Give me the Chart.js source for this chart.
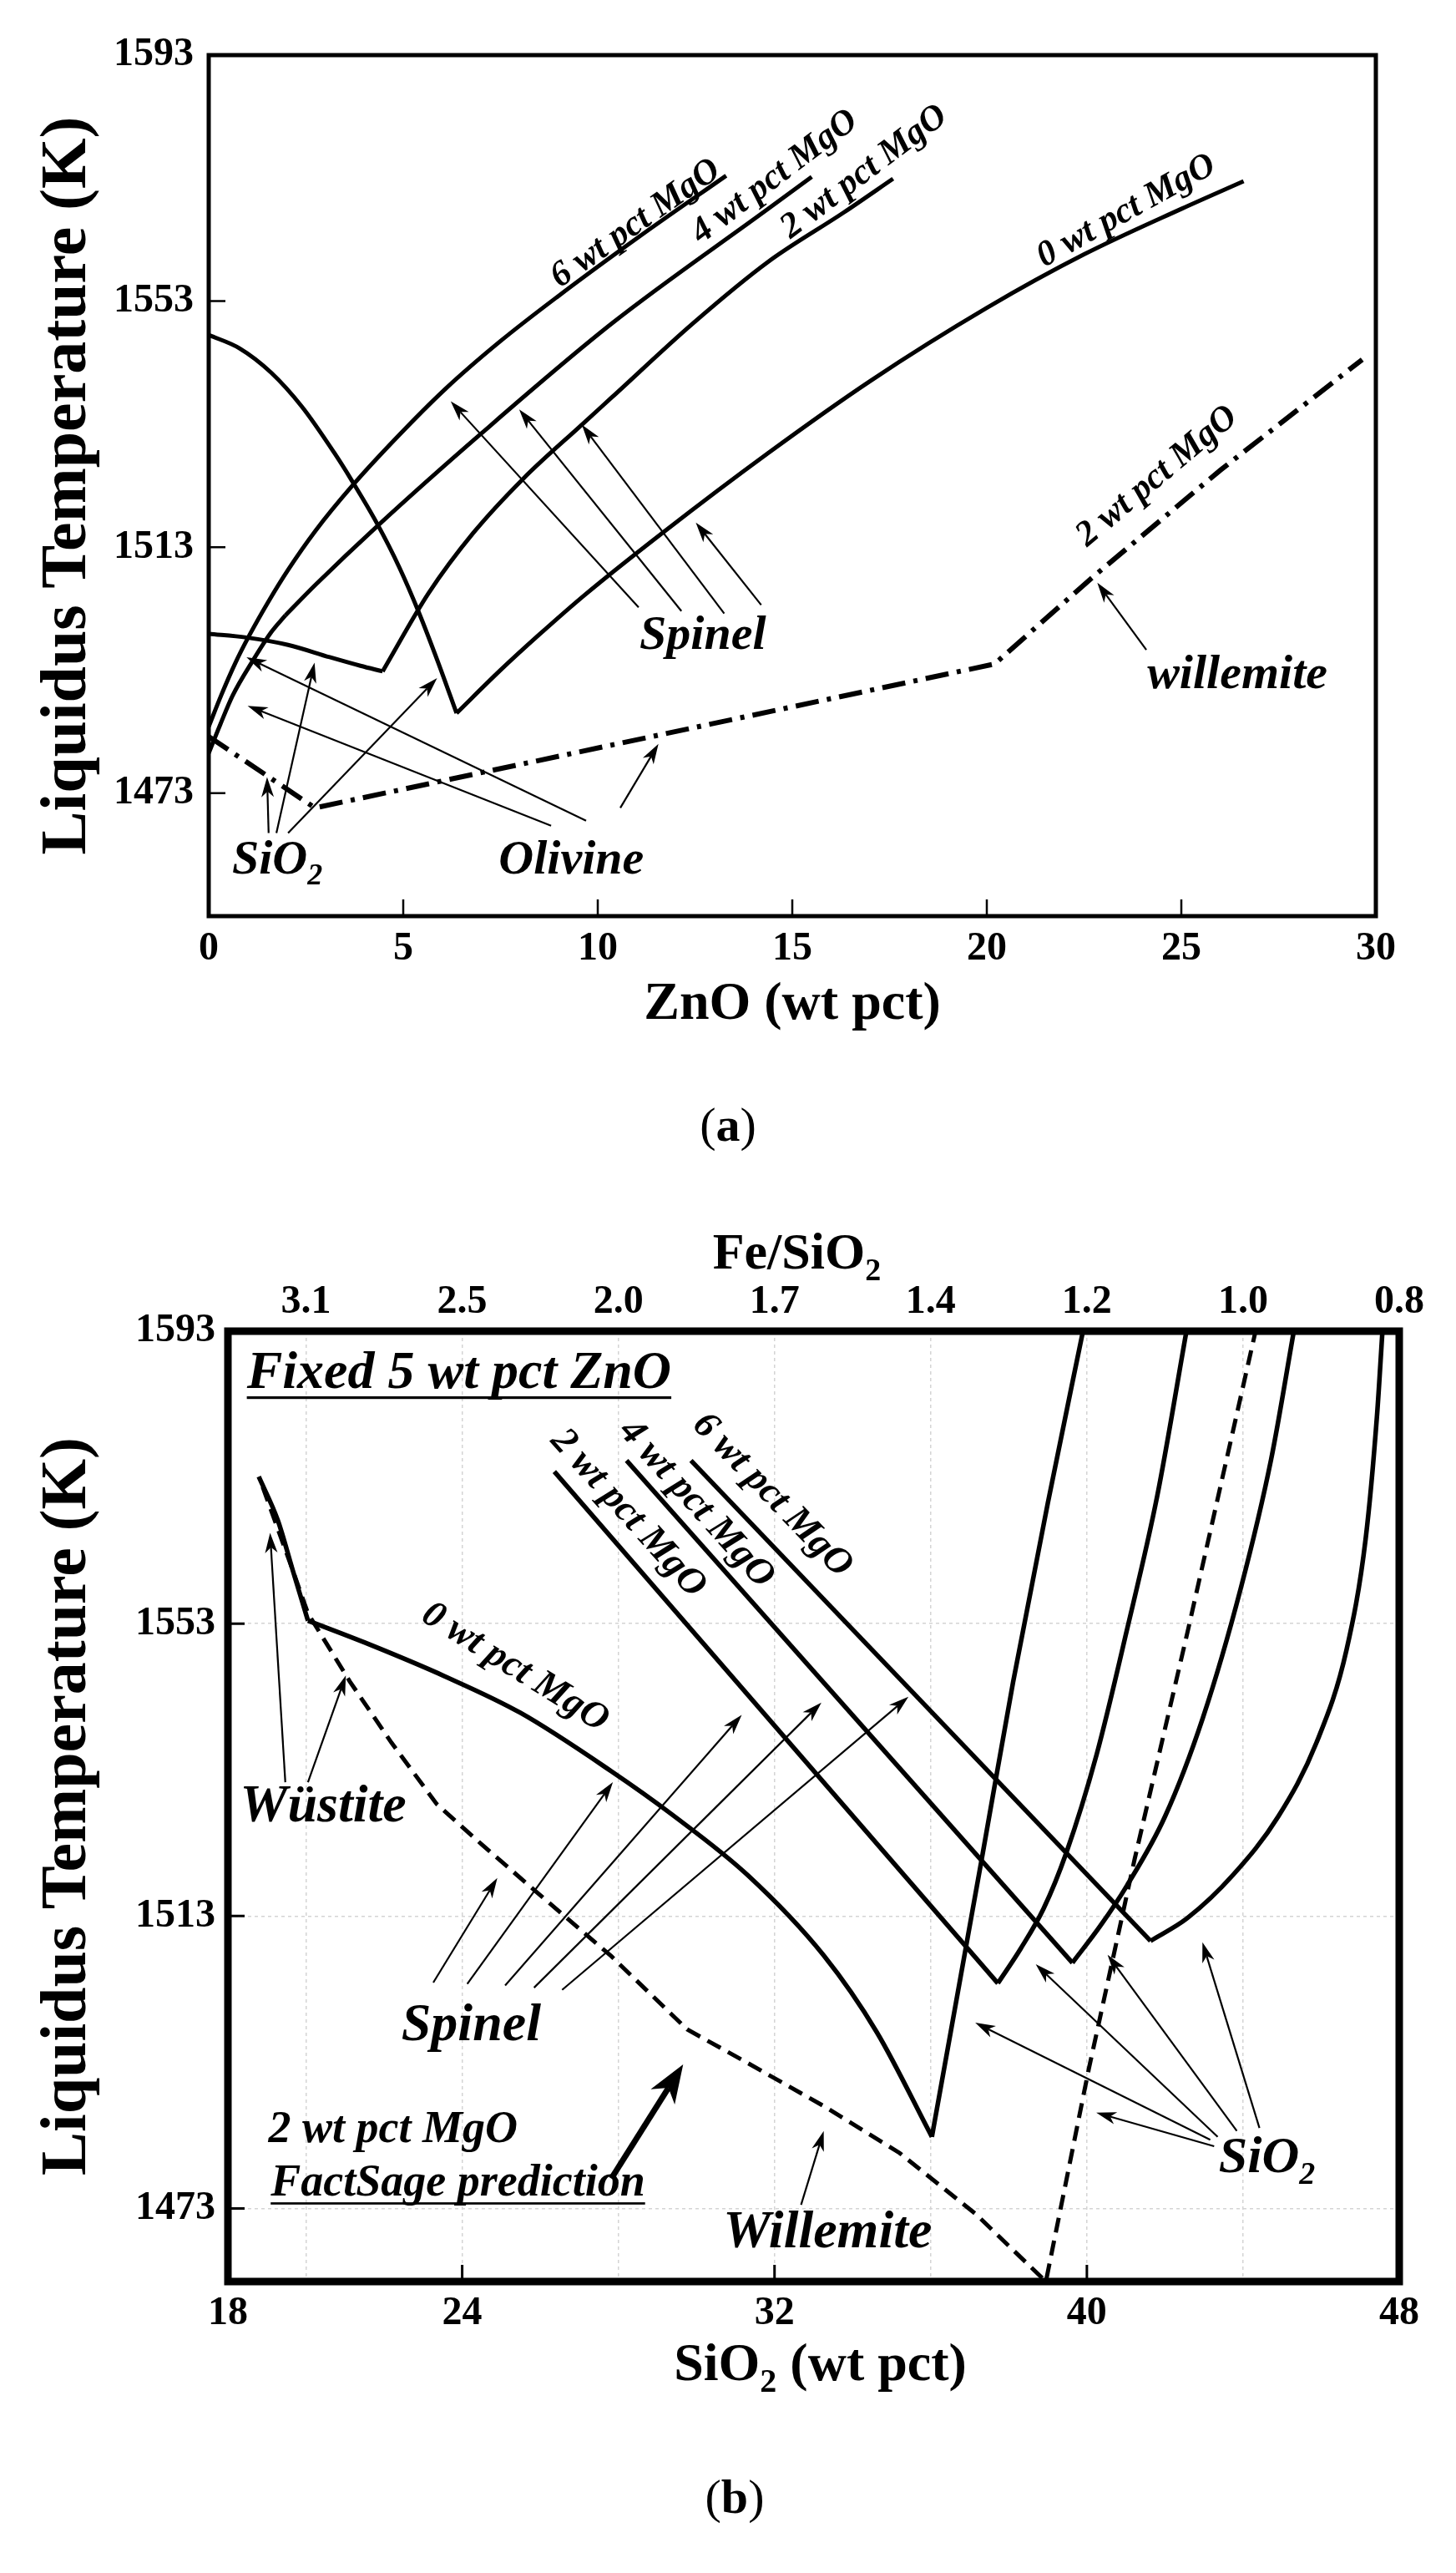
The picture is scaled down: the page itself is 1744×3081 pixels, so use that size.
<!DOCTYPE html>
<html>
<head>
<meta charset="utf-8">
<title>Liquidus temperature vs ZnO and SiO2</title>
<script src="https://cdn.jsdelivr.net/npm/chart.js@4.4.1/dist/chart.umd.min.js"></script>
<style>
  html, body { margin: 0; padding: 0; background: #fff; }
  body { width: 1744px; height: 3081px; position: relative; overflow: hidden; }
  .panel { position: absolute; left: 0; width: 1744px; }
  #panelA { top: 0; height: 1300px; }
  #panelB { top: 1300px; height: 1781px; }
  .cap { position: absolute; width: 200px; text-align: center; color: #000;
         font-family: "Liberation Serif", "Times New Roman", serif; font-size: 58px; line-height: 58px; }
</style>
</head>
<body>
<div class="panel" id="panelA"><canvas id="chartA"></canvas></div>
<div class="panel" id="panelB"><canvas id="chartB"></canvas></div>
<div class="cap" style="left:772px; top:1318px;">(<b>a</b>)</div>
<div class="cap" style="left:780px; top:2961px;">(<b>b</b>)</div>

<script>
// ============================================================
//  Liquidus temperature plots: (a) vs ZnO, (b) vs SiO2 at 5 wt pct ZnO
// ============================================================

const SERIF = '"Liberation Serif", "Times New Roman", serif';

// ---- Panel (a) axes ----
const znoTicks = [0, 5, 10, 15, 20, 25, 30];
const tempTicks = [1473, 1513, 1553, 1593];

// ---- Panel (a) curves (ZnO wt pct, K) ----
const a0SiO2X   = [0, 0.8, 1.6, 2.4, 3.22, 3.68, 4.33, 4.9, 5.4, 5.9, 6.37];
const a0SiO2Y   = [1547.5, 1545.3, 1541.4, 1535.8, 1528.4, 1523.8, 1516.8, 1509.7, 1502.4, 1494.2, 1486];
const a0SpinelX = [6.37, 7.5, 8.5, 9.66, 11.66, 14.38, 17.0, 20.0, 22.5, 25.0, 26.6];
const a0SpinelY = [1486, 1493, 1498.8, 1505.2, 1515.3, 1528.3, 1540.0, 1551.9, 1560.6, 1568.0, 1572.5];
const a2SiO2X   = [0, 0.97, 2.04, 3.11, 3.9, 4.47];
const a2SiO2Y   = [1498.9, 1498.3, 1497.1, 1495.1, 1493.7, 1492.8];
const a2SpinelX = [4.47, 5.65, 6.8, 8.08, 9.59, 10.37, 12.43, 14.38, 16.32, 17.59];
const a2SpinelY = [1492.8, 1505.5, 1515.3, 1524.1, 1532.9, 1537.4, 1549.3, 1559.4, 1567.4, 1572.9];
const a4OlivineX = [0, 0.3, 0.61, 1.14, 1.61, 1.97];
const a4OlivineY = [1479.5, 1484.2, 1488.8, 1494.6, 1499.2, 1501.9];
const a4SpinelX = [1.97, 2.75, 4.33, 7.01, 10.37, 14.38, 15.5];
const a4SpinelY = [1501.9, 1506.9, 1516.4, 1531.5, 1549.4, 1568, 1573.2];
const a6X = [0, 0.32, 0.68, 1.04, 1.54, 2.04, 2.75, 3.68, 4.8, 6.08, 7.5, 8.94, 11.09, 13.3];
const a6Y = [1483.8, 1488.9, 1494.1, 1498.6, 1504.2, 1509.3, 1515.7, 1522.9, 1530.6, 1538.7, 1546.5, 1553.6, 1563.6, 1573.4];
const aWillemiteX = [0, 2.73, 20.2, 22.7, 26.0, 29.65];
const aWillemiteY = [1482.2, 1470.6, 1494, 1508, 1525.5, 1543.5];

// ---- Panel (b) axes ----
const sio2Ticks = [18, 24, 32, 40, 48];
const feRatioAt = [20, 24, 28, 32, 36, 40, 44, 48];
const feRatioLabels = ['3.1', '2.5', '2.0', '1.7', '1.4', '1.2', '1.0', '0.8'];

// ---- Panel (b) curves (SiO2 wt pct, K) ----
const b0WustiteX = [18.79, 19.28, 19.66, 20.05];
const b0WustiteY = [1573.1, 1567.1, 1560.3, 1553.4];
const b0SpinelX = [20.05, 21.6, 23.55, 25.49, 27.82, 29.37, 31.31, 33.26, 34.62, 36.03];
const b0SpinelY = [1553.4, 1550.2, 1545.8, 1540.8, 1532.8, 1526.9, 1518.6, 1507.6, 1497.1, 1482.8];
const b0SiO2X = [36.03, 37.33, 38.11, 39.0, 39.9];
const b0SiO2Y = [1482.8, 1521.5, 1545, 1569.5, 1593];
const b2SpinelX = [26.36, 37.72];
const b2SpinelY = [1573.8, 1503.8];
const b2SiO2X = [37.72, 38.3, 38.89, 39.47, 40.25, 41.02, 41.8, 42.55];
const b2SiO2Y = [1503.8, 1508.5, 1514, 1521.6, 1535.1, 1552, 1570.4, 1593];
const b4SpinelX = [28.21, 39.63];
const b4SpinelY = [1575.3, 1506.6];
const b4SiO2X = [39.63, 40.35, 41.03, 42.0, 42.97, 43.94, 44.72, 45.3];
const b4SiO2Y = [1506.6, 1511.7, 1517.2, 1526.6, 1540.1, 1557.8, 1575.5, 1593];
const b6SpinelX = [29.86, 41.63];
const b6SpinelY = [1575.3, 1509.6];
const b6SiO2X = [41.63, 42.57, 43.74, 44.9, 45.88, 46.65, 47.14, 47.43, 47.57];
const b6SiO2Y = [1509.6, 1512.7, 1518.6, 1526.6, 1536.7, 1549.4, 1564.6, 1581.4, 1593];
const bFactSageX = [18.89, 19.66, 20.05, 21.12, 22.19, 23.35, 24.52, 25.88, 27.82, 29.76, 31.31, 33.26, 35.2, 37.14, 38.95, 40.05, 41.22, 42.58, 44.32];
const bFactSageY = [1571.7, 1560.3, 1554.4, 1545.1, 1536.7, 1528.3, 1522.7, 1516.4, 1507.5, 1497.5, 1492.9, 1487, 1480.6, 1472.3, 1463, 1492.1, 1520.7, 1551.9, 1593];

// ---- Annotations (data coordinates) ----
const labelsA = [
  { text: '6 wt pct MgO', x: 10.94, y: 1565.9, rot: -35, size: 43 },
  { text: '4 wt pct MgO', x: 14.51, y: 1573.5, rot: -37, size: 43 },
  { text: '2 wt pct MgO', x: 16.81, y: 1574.3, rot: -37, size: 43 },
  { text: '0 wt pct MgO', x: 23.56, y: 1568.0, rot: -29, size: 43 },
  { text: '2 wt pct MgO', x: 24.34, y: 1524.8, rot: -40, size: 43 },
  { text: 'Spinel',    x: 12.7,  y: 1499.0, size: 58 },
  { text: 'willemite', x: 26.44, y: 1492.7, size: 58 },
  { text: 'Olivine',   x: 9.32,  y: 1462.5, size: 58 },
  { text: 'SiO₂',      x: 1.76,  y: 1462.5, size: 58 },
];
// [fromX, fromY, tipX, tipY, bold]
const arrowsA = [
  [11.05, 1503.2, 6.22, 1536.7], [12.15, 1502.6, 7.98, 1535.4],
  [13.25, 1502.2, 9.59, 1532.9], [14.2, 1503.6, 12.52, 1517],
  [24.1, 1496.3, 22.84, 1507.2],
  [9.7, 1468.5, 0.97, 1495.1], [8.8, 1467.7, 1.0, 1487.2], [10.58, 1470.6, 11.56, 1481],
  [1.54, 1466.5, 1.5, 1475.6], [1.74, 1466.5, 2.72, 1494.2], [2.04, 1466.5, 5.87, 1491.7],
];

const labelsB = [
  { text: 'Fixed 5 wt pct ZnO', x: 23.92, y: 1587.6, size: 64, under: true },
  { text: '2 wt pct MgO', x: 28.3,  y: 1568.3, rot: 48, size: 46 },
  { text: '4 wt pct MgO', x: 30.05, y: 1569.6, rot: 48, size: 46 },
  { text: '6 wt pct MgO', x: 31.99, y: 1570.8, rot: 46, size: 46 },
  { text: '0 wt pct MgO', x: 25.39, y: 1547.3, rot: 32, size: 46 },
  { text: 'Wüstite',   x: 20.44, y: 1528.3, size: 64 },
  { text: 'Spinel',    x: 24.23, y: 1498.4, size: 64 },
  { text: '2 wt pct MgO', x: 22.23, y: 1484.1, size: 54 },
  { text: 'FactSage prediction', x: 23.89, y: 1476.8, size: 54, under: true },
  { text: 'Willemite', x: 33.36, y: 1470.1, size: 64 },
  { text: 'SiO₂',      x: 44.61, y: 1480.3, size: 62 },
];
const arrowsB = [
  [19.47, 1531.3, 19.08, 1565.4], [20.05, 1531.3, 21.02, 1545.9],
  [23.26, 1503.9, 24.9, 1518.2], [24.13, 1503.7, 27.86, 1531.3], [25.1, 1503.5, 31.16, 1540.5],
  [25.84, 1503.2, 33.2, 1542.2], [26.56, 1502.9, 35.43, 1543],
  [32.68, 1473.5, 33.26, 1483.6],
  [27.82, 1477.1, 29.66, 1492.7, true],
  [43.16, 1482.4, 37.14, 1498.4], [43.35, 1482.8, 38.69, 1506.4], [43.84, 1483.6, 40.53, 1507.7],
  [43.26, 1481.5, 40.24, 1486.1], [44.42, 1484.0, 42.96, 1509.4],
];

// ---- Helpers ----
function pts(xs, ys) {
  return xs.map((x, i) => ({ x, y: ys[i] }));
}

function curve(xs, ys, opts = {}) {
  const smooth = opts.smooth !== false;
  return {
    data: pts(xs, ys),
    showLine: true,
    pointRadius: 0,
    pointHoverRadius: 0,
    borderColor: '#000',
    borderWidth: opts.width || 5,
    borderDash: opts.dash || [],
    tension: smooth ? 0.4 : 0,
    cubicInterpolationMode: smooth ? 'monotone' : 'default',
    fill: false,
  };
}

// text with "₂" drawn as a real subscript
function drawRich(ctx, text, x, y, size, opts = {}) {
  const runs = [];
  for (const ch of text) {
    const sub = ch === '₂';
    const t = sub ? '2' : ch;
    const last = runs[runs.length - 1];
    if (last && last.sub === sub) last.t += t;
    else runs.push({ t, sub });
  }
  const style = opts.style || 'italic bold';
  const fontFor = r => `${style} ${r.sub ? Math.round(size * 0.62) : size}px ${SERIF}`;
  let w = 0;
  runs.forEach(r => { ctx.font = fontFor(r); r.w = ctx.measureText(r.t).width; w += r.w; });
  ctx.save();
  ctx.translate(x, y);
  if (opts.rot) ctx.rotate(opts.rot * Math.PI / 180);
  ctx.textBaseline = 'alphabetic';
  ctx.textAlign = 'left';
  ctx.fillStyle = '#000';
  const base = size * 0.33;
  let cx = -w / 2;
  runs.forEach(r => {
    ctx.font = fontFor(r);
    ctx.fillText(r.t, cx, base + (r.sub ? size * 0.22 : 0));
    cx += r.w;
  });
  if (opts.under) ctx.fillRect(-w / 2, base + size * 0.15, w, Math.max(2.5, size * 0.05));
  ctx.restore();
}

function drawArrow(ctx, x1, y1, x2, y2, bold) {
  const lw = bold ? 7 : 2.2, len = bold ? 46 : 24, half = bold ? 17 : 7.5;
  const ang = Math.atan2(y2 - y1, x2 - x1);
  const c = Math.cos(ang), s = Math.sin(ang);
  const bx = x2 - len * c, by = y2 - len * s;
  const nx = x2 - len * 0.72 * c, ny = y2 - len * 0.72 * s;
  ctx.lineWidth = lw;
  ctx.beginPath();
  ctx.moveTo(x1, y1);
  ctx.lineTo(nx, ny);
  ctx.stroke();
  ctx.beginPath();
  ctx.moveTo(x2, y2);
  ctx.lineTo(bx - half * s, by + half * c);
  ctx.lineTo(nx, ny);
  ctx.lineTo(bx + half * s, by - half * c);
  ctx.closePath();
  ctx.fill();
}

// frame, inward tick marks, arrows, labels and subscripted axis titles
function makeDecor(cfg) {
  return {
    id: 'decor',
    afterDatasetsDraw(chart) {
      const { ctx, chartArea: a, scales } = chart;
      const px = v => scales.x.getPixelForValue(v);
      const py = v => scales.y.getPixelForValue(v);
      ctx.save();
      ctx.strokeStyle = '#000';
      ctx.fillStyle = '#000';

      ctx.lineWidth = cfg.tickWidth;
      ctx.beginPath();
      cfg.xTicks.forEach(v => { ctx.moveTo(px(v), a.bottom); ctx.lineTo(px(v), a.bottom - cfg.tickLen); });
      cfg.yTicks.forEach(v => { ctx.moveTo(a.left, py(v)); ctx.lineTo(a.left + cfg.tickLen, py(v)); });
      ctx.stroke();

      ctx.lineWidth = cfg.frameWidth;
      ctx.strokeRect(a.left, a.top, a.right - a.left, a.bottom - a.top);

      cfg.arrows.forEach(ar => drawArrow(ctx, px(ar[0]), py(ar[1]), px(ar[2]), py(ar[3]), ar[4]));
      cfg.labels.forEach(l => drawRich(ctx, l.text, px(l.x), py(l.y), l.size, { rot: l.rot, under: l.under }));

      (cfg.titles || []).forEach(t => {
        const y = (t.side === 'top' ? a.top : a.bottom) + t.dy;
        drawRich(ctx, t.text, (a.left + a.right) / 2 + (t.dx || 0), y, t.size, { style: 'bold' });
      });
      ctx.restore();
    }
  };
}

const tickFont = { family: SERIF, size: 48, weight: 'bold' };
const yTitleFont = { family: SERIF, size: 78, weight: 'bold' };
const fixTicks = values => scale => { scale.ticks = values.map(v => ({ value: v })); };

// ---- Chart (a) ----
new Chart(document.getElementById('chartA'), {
  type: 'scatter',
  data: {
    datasets: [
      curve(a0SiO2X, a0SiO2Y),
      curve(a0SpinelX, a0SpinelY),
      curve(a2SiO2X, a2SiO2Y),
      curve(a2SpinelX, a2SpinelY),
      curve(a4OlivineX, a4OlivineY),
      curve(a4SpinelX, a4SpinelY),
      curve(a6X, a6Y),
      curve(aWillemiteX, aWillemiteY, { smooth: false, width: 6, dash: [28, 10, 5, 10] }),
    ]
  },
  options: {
    responsive: true,
    maintainAspectRatio: false,
    animation: false,
    events: [],
    layout: { padding: { top: 66, right: 96, left: 0, bottom: 0 } },
    plugins: { legend: { display: false }, tooltip: { enabled: false } },
    scales: {
      x: {
        type: 'linear', min: 0, max: 30,
        afterBuildTicks: fixTicks(znoTicks),
        afterFit: s => { s.height = 203; },
        ticks: { font: tickFont, color: '#000', padding: 11, autoSkip: false, maxRotation: 0, callback: v => String(v) },
        grid: { display: false, drawTicks: false },
        border: { display: false },
        title: { display: true, text: 'ZnO (wt pct)', font: { family: SERIF, size: 64, weight: 'bold' }, color: '#000', padding: { top: 0, bottom: 58 } }
      },
      y: {
        type: 'linear', min: 1453, max: 1593,
        afterBuildTicks: fixTicks(tempTicks),
        afterFit: s => { s.width = 250; },
        ticks: { font: tickFont, color: '#000', padding: 18, autoSkip: false, callback: v => String(v) },
        grid: { display: false, drawTicks: false },
        border: { display: false },
        title: { display: true, text: 'Liquidus Temperature (K)', font: yTitleFont, color: '#000', padding: { top: 35, bottom: 0 } }
      }
    }
  },
  plugins: [makeDecor({
    frameWidth: 5, tickWidth: 2.5, tickLen: 20,
    xTicks: [5, 10, 15, 20, 25], yTicks: [1473, 1513, 1553],
    arrows: arrowsA, labels: labelsA
  })]
});

// ---- Chart (b) ----
new Chart(document.getElementById('chartB'), {
  type: 'scatter',
  data: {
    datasets: [
      curve(b0WustiteX, b0WustiteY, { width: 5.5 }),
      curve(b0SpinelX, b0SpinelY, { width: 5.5 }),
      curve(b0SiO2X, b0SiO2Y, { width: 5.5 }),
      curve(b2SpinelX, b2SpinelY, { width: 5.5, smooth: false }),
      curve(b2SiO2X, b2SiO2Y, { width: 5.5 }),
      curve(b4SpinelX, b4SpinelY, { width: 5.5, smooth: false }),
      curve(b4SiO2X, b4SiO2Y, { width: 5.5 }),
      curve(b6SpinelX, b6SpinelY, { width: 5.5, smooth: false }),
      curve(b6SiO2X, b6SiO2Y, { width: 5.5 }),
      curve(bFactSageX, bFactSageY, { width: 5, smooth: false, dash: [18, 10] }),
    ]
  },
  options: {
    responsive: true,
    maintainAspectRatio: false,
    animation: false,
    events: [],
    layout: { padding: { top: 0, right: 68, left: 0, bottom: 0 } },
    plugins: { legend: { display: false }, tooltip: { enabled: false } },
    scales: {
      x: {
        type: 'linear', min: 18, max: 48,
        afterBuildTicks: fixTicks(sio2Ticks),
        afterFit: s => { s.height = 349; },
        ticks: { font: tickFont, color: '#000', padding: 10, autoSkip: false, maxRotation: 0, callback: v => String(v) },
        grid: { display: false, drawTicks: false },
        border: { display: false }
      },
      x2: {
        type: 'linear', axis: 'x', position: 'top', min: 18, max: 48,
        afterBuildTicks: fixTicks(feRatioAt),
        afterFit: s => { s.height = 294; },
        ticks: { font: tickFont, color: '#000', padding: 6, autoSkip: false, maxRotation: 0, callback: (v, i) => feRatioLabels[i] },
        grid: { display: true, drawTicks: false, color: '#d4d4d4', lineWidth: 1.5 },
        border: { display: false, dash: [4, 4] }
      },
      y: {
        type: 'linear', min: 1463, max: 1593,
        afterBuildTicks: fixTicks(tempTicks),
        afterFit: s => { s.width = 273; },
        ticks: { font: tickFont, color: '#000', padding: 15, autoSkip: false, callback: v => String(v) },
        grid: { display: true, drawTicks: false, color: '#d4d4d4', lineWidth: 1.5 },
        border: { display: false, dash: [4, 4] },
        title: { display: true, text: 'Liquidus Temperature (K)', font: yTitleFont, color: '#000', padding: { top: 35, bottom: 0 } }
      }
    }
  },
  plugins: [makeDecor({
    frameWidth: 9, tickWidth: 3, tickLen: 20,
    xTicks: [24, 32, 40], yTicks: [1473, 1513, 1553],
    arrows: arrowsB, labels: labelsB,
    titles: [
      { text: 'Fe/SiO₂', side: 'top', dy: -95, dx: -20, size: 62 },
      { text: 'SiO₂ (wt pct)', side: 'bottom', dy: 97, dx: 8, size: 64 }
    ]
  })]
});
</script>
</body>
</html>
